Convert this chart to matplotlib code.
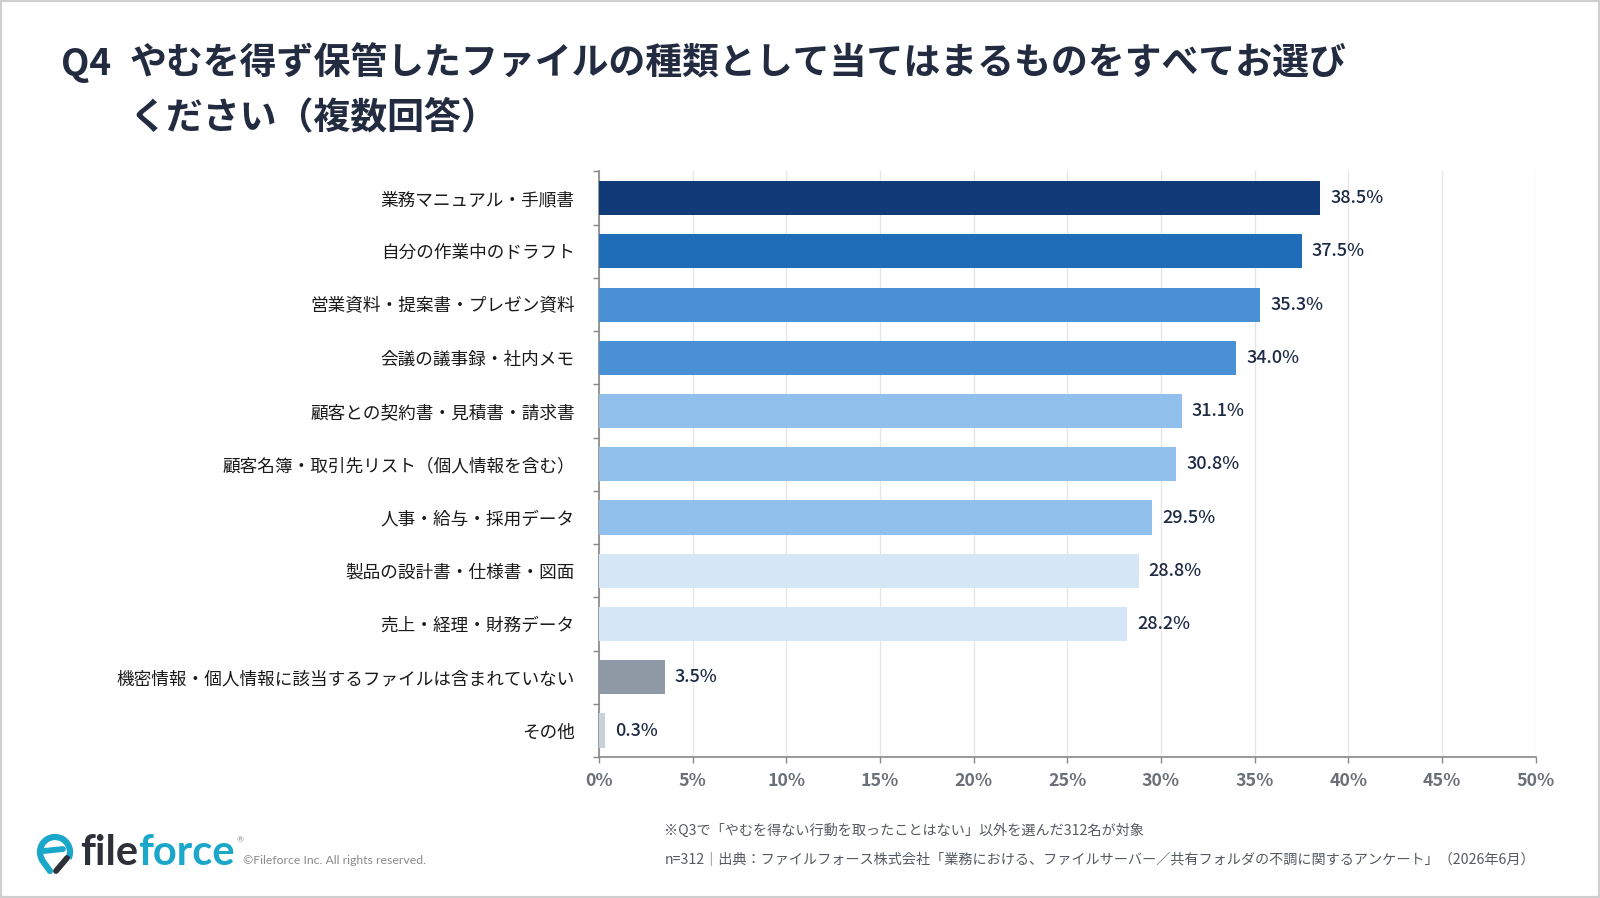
import matplotlib
matplotlib.use("Agg")
import matplotlib.pyplot as plt
from matplotlib.patches import Rectangle, Arc
import numpy as np

plt.rcParams['font.family'] = ['Noto Sans CJK JP', 'DejaVu Sans']

categories = [
    "業務マニュアル・手順書",
    "自分の作業中のドラフト",
    "営業資料・提案書・プレゼン資料",
    "会議の議事録・社内メモ",
    "顧客との契約書・見積書・請求書",
    "顧客名簿・取引先リスト（個人情報を含む）",
    "人事・給与・採用データ",
    "製品の設計書・仕様書・図面",
    "売上・経理・財務データ",
    "機密情報・個人情報に該当するファイルは含まれていない",
    "その他",
]
values = [38.5, 37.5, 35.3, 34.0, 31.1, 30.8, 29.5, 28.8, 28.2, 3.5, 0.3]
bar_colors = ["#103b78", "#1f6cb8", "#4a90d4", "#4a90d4", "#92c0ec", "#92c0ec",
              "#92c0ec", "#d5e6f6", "#d5e6f6", "#8f99a5", "#c9d0d8"]
xticks = [0, 5, 10, 15, 20, 25, 30, 35, 40, 45, 50]
xtick_labels = [f"{t}%" for t in xticks]

title_q = "Q4"
title_lines = ["やむを得ず保管したファイルの種類として当てはまるものをすべてお選び",
               "ください（複数回答）"]
note1 = "※Q3で「やむを得ない行動を取ったことはない」以外を選んだ312名が対象"
note2 = "n=312｜出典：ファイルフォース株式会社「業務における、ファイルサーバー／共有フォルダの不調に関するアンケート」（2026年6月）"

W, H = 1600, 898
fig = plt.figure(figsize=(16, 8.98), dpi=100)
fig.patch.set_facecolor("white")

# layout helpers (positions measured on a 0.98-scaled view)
S = 0.98
def fx(px):
    return px / S / W

def fy(py):
    return 1 - py / S / H

ax = fig.add_axes([fx(587), fy(742), fx(1505) - fx(587), fy(168) - fy(742)])
y = np.arange(len(categories))
ax.barh(y, values, height=0.64, color=bar_colors, zorder=3)
ax.set_ylim(len(categories) - 0.5, -0.5)
ax.set_xlim(0, 50)

for yi, v in zip(y, values):
    ax.text(v + 0.55, yi, f"{v:.1f}%", va="center", ha="left", fontsize=13,
            color="#1e2a44", fontweight="medium", zorder=4)

ax.set_yticks(y)
ax.set_yticklabels(categories, fontsize=12.7, color="#1a1a1a")
ax.set_yticks(np.arange(-0.5, len(categories), 1.0), minor=True)
ax.tick_params(axis="y", which="major", length=0, pad=17.5)
ax.tick_params(axis="y", which="minor", length=4, color="#888888", width=1)

ax.set_xticks(xticks)
ax.set_xticklabels(xtick_labels, fontsize=12.8, color="#6b6f78", fontweight="bold")
ax.tick_params(axis="x", which="major", length=4, color="#888888", width=1, pad=7)

ax.grid(axis="x", color="#e6e6e6", linewidth=1, zorder=0)
ax.set_axisbelow(True)
for s in ["top", "right"]:
    ax.spines[s].set_visible(False)
for s in ["left", "bottom"]:
    ax.spines[s].set_color("#888888")
    ax.spines[s].set_linewidth(1.2)

# Title
tc = "#222b40"
fig.text(fx(60), fy(63), title_q, fontsize=26.6, fontweight="bold", color=tc,
         va="center", ha="left")
fig.text(fx(127), fy(63), title_lines[0], fontsize=26.6, fontweight="bold", color=tc,
         va="center", ha="left")
fig.text(fx(127), fy(115), title_lines[1], fontsize=26.6, fontweight="bold", color=tc,
         va="center", ha="left")

# Footnotes
fig.text(fx(651), fy(814), note1, fontsize=10.2, color="#555a62", va="center", ha="left")
fig.text(fx(651), fy(843), note2, fontsize=10.2, color="#555a62", va="center", ha="left")

# Logo (simplified), drawn in an overlay axes in original pixel coordinates
lx = fig.add_axes([0, 0, 1, 1], zorder=-1)
lx.set_xlim(0, W)
lx.set_ylim(H, 0)
lx.axis("off")
teal = "#1aa7c9"
lx.add_patch(Arc((55, 852), 30, 30, theta1=150, theta2=25, color=teal, lw=4.5))
lx.plot([42, 50], [860, 871], color=teal, lw=4.5, solid_capstyle="round")
lx.plot([44, 63], [851, 849], color=teal, lw=4.2, solid_capstyle="round")
lx.plot([67, 56], [858, 871], color="#2e3238", lw=4.2, solid_capstyle="round")

t1 = fig.text(80 / W, 1 - 853 / H, "file", fontsize=30, fontweight="bold", color="#2e3238",
              va="center", ha="left", family=["Lato", "DejaVu Sans"])
fig.canvas.draw()
bb = t1.get_window_extent()
t2 = fig.text(bb.x1 / W, 1 - 853 / H, "force", fontsize=30, fontweight="bold", color=teal,
              va="center", ha="left", family=["Lato", "DejaVu Sans"])
fig.canvas.draw()
bb2 = t2.get_window_extent()
fig.text(bb2.x1 / W + 0.001, 1 - 840 / H, "®", fontsize=6, color="#8a8a8a",
         va="center", ha="left", family=["Lato", "DejaVu Sans"])
fig.text(fx(238), fy(843), "©Fileforce Inc. All rights reserved.", fontsize=8.8,
         color="#8a8a8a", va="center", ha="left", family=["Lato", "DejaVu Sans"])

# border
fig.patches.append(Rectangle((0, 0), 1, 1, transform=fig.transFigure, fill=False,
                             edgecolor="#cfcfcf", linewidth=3))

fig.savefig("out.png", dpi=100)
